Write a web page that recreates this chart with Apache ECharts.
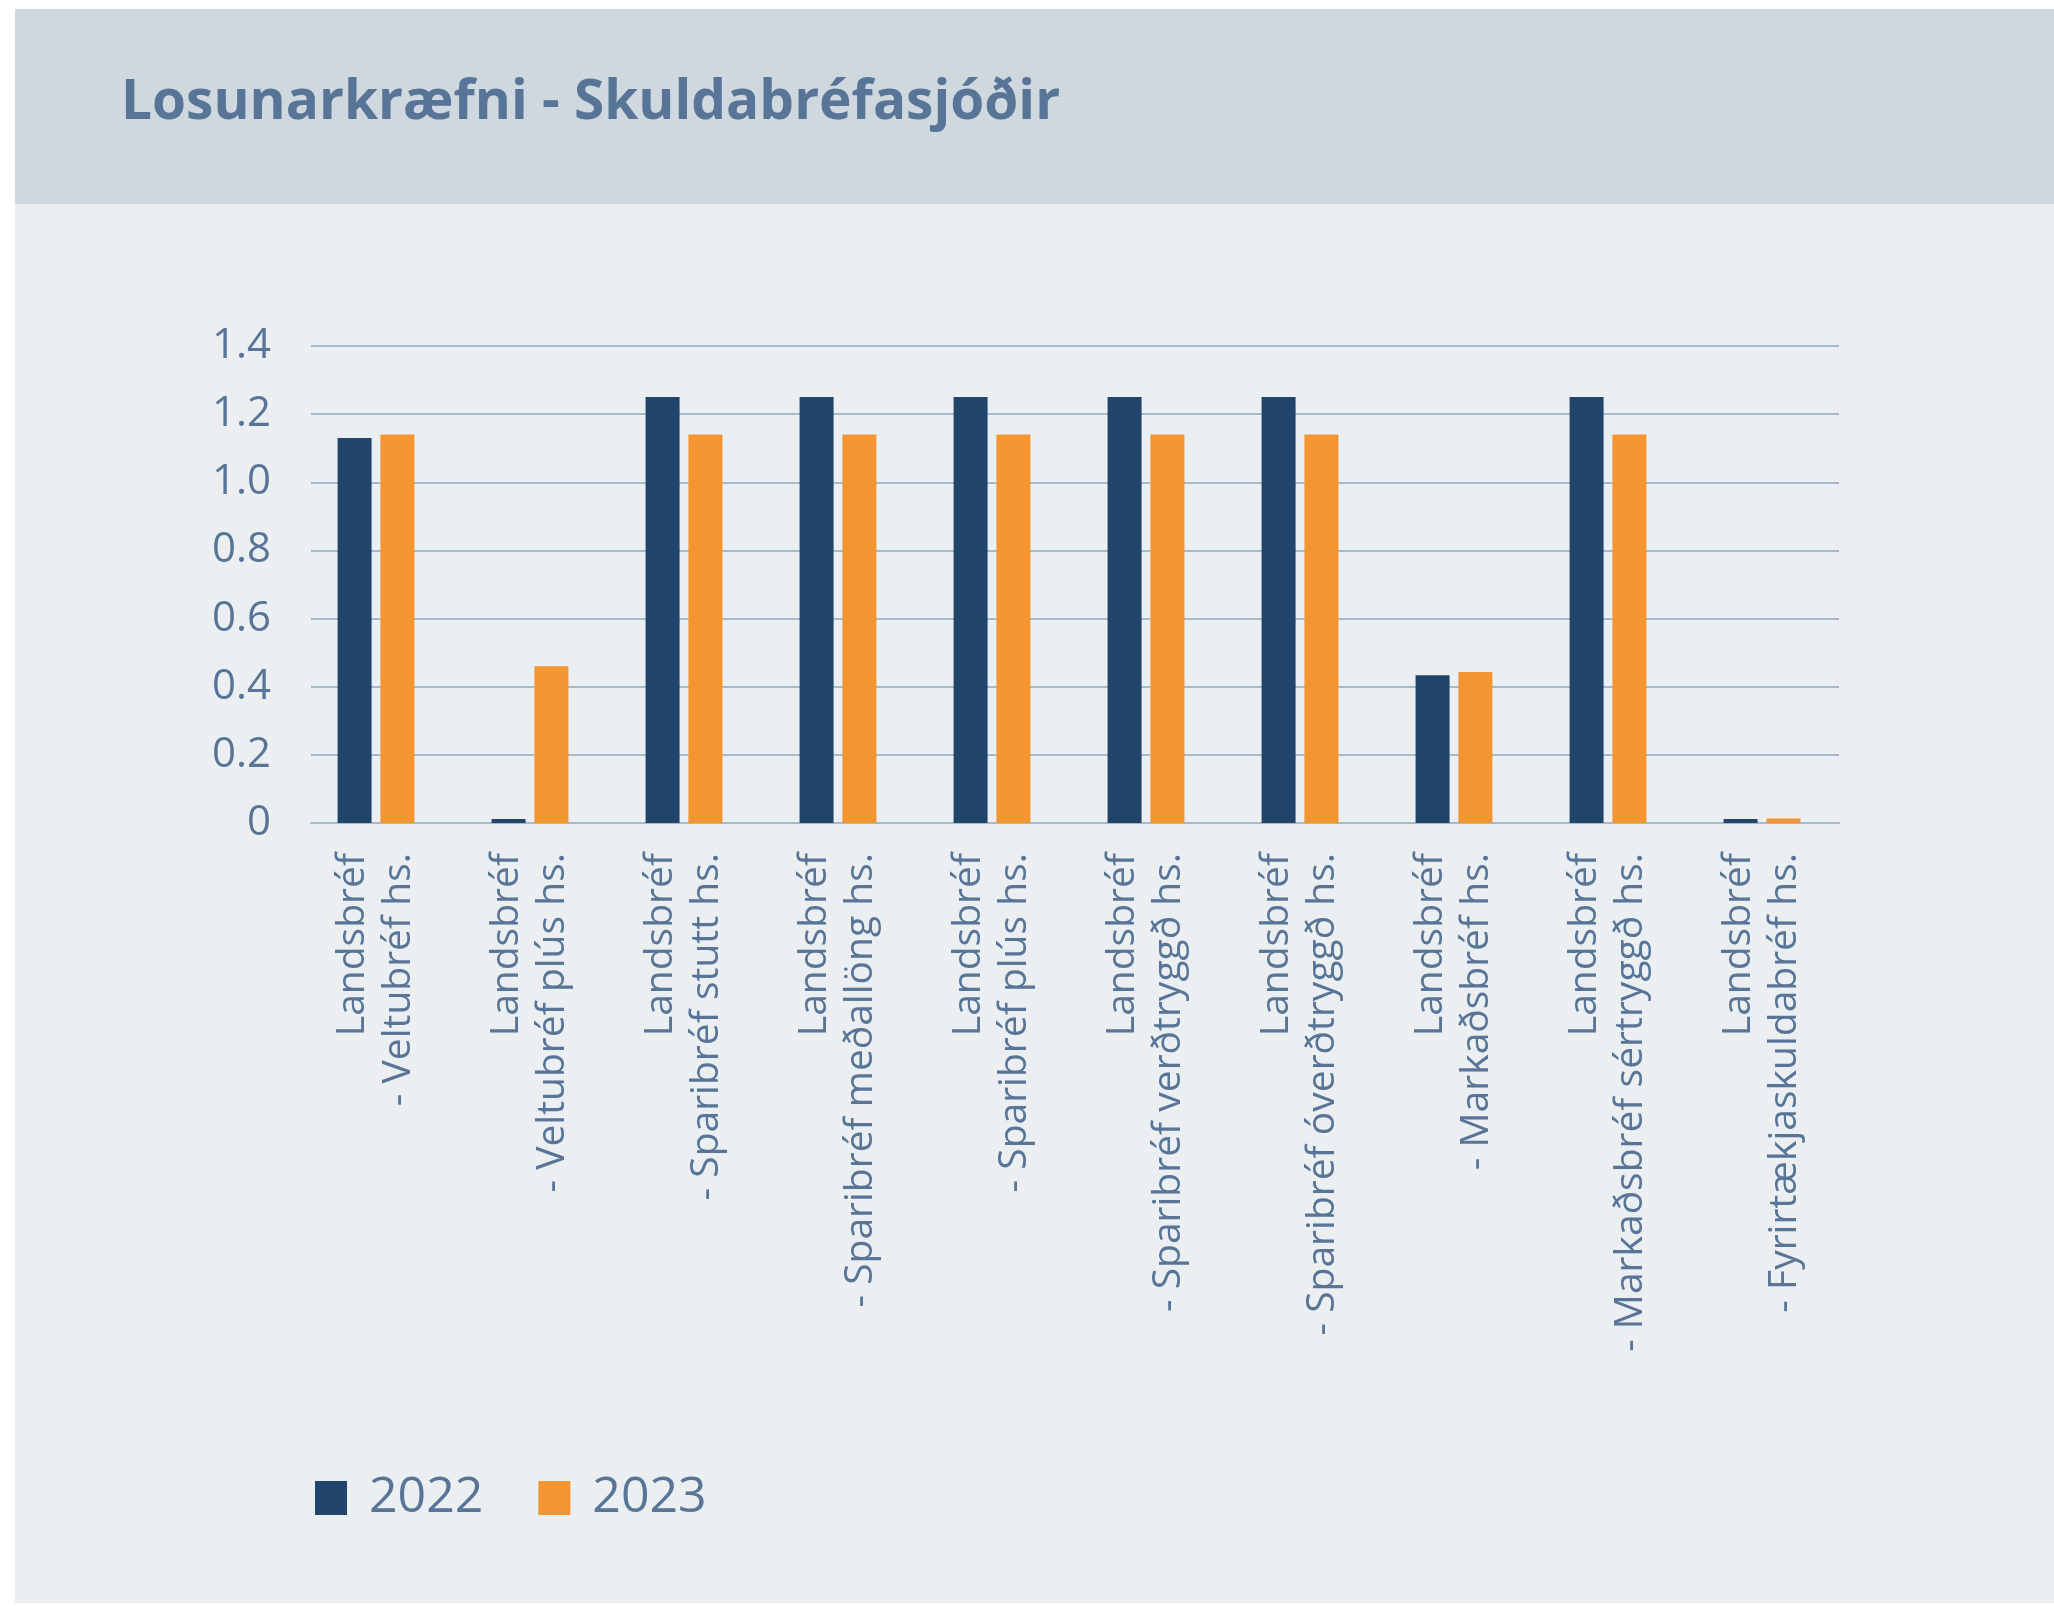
<!DOCTYPE html>
<html>
<head>
<meta charset="utf-8">
<script src="https://cdn.jsdelivr.net/npm/echarts@6/dist/echarts.min.js"></script>
<style>
html,body{margin:0;padding:0;background:#ffffff;}
#chart{width:2054px;height:1606px;}
</style>
</head>
<body>
<div id="chart"></div>
<script>
const titleText = 'Losunarkræfni - Skuldabréfasjóðir';
const categories = [
  'Landsbréf\n- Veltubréf hs.',
  'Landsbréf\n- Veltubréf plús hs.',
  'Landsbréf\n- Sparibréf stutt hs.',
  'Landsbréf\n- Sparibréf meðallöng hs.',
  'Landsbréf\n- Sparibréf plús hs.',
  'Landsbréf\n- Sparibréf verðtryggð hs.',
  'Landsbréf\n- Sparibréf óverðtryggð hs.',
  'Landsbréf\n- Markaðsbréf hs.',
  'Landsbréf\n- Markaðsbréf sértryggð hs.',
  'Landsbréf\n- Fyrirtækjaskuldabréf hs.'
];
const seriesNames = ['2022', '2023'];
const values2022 = [1.13, 0.012, 1.25, 1.25, 1.25, 1.25, 1.25, 0.434, 1.25, 0.012];
const values2023 = [1.14, 0.46, 1.14, 1.14, 1.14, 1.14, 1.14, 0.443, 1.14, 0.013];
const yTickLabels = ['0', '0.2', '0.4', '0.6', '0.8', '1.0', '1.2', '1.4'];

const textColor = '#587597';
const gridColor = '#a9b8ca';
const labelFont = '"Open Sans", "Noto Sans", sans-serif';

const chart = echarts.init(document.getElementById('chart'), null, {renderer: 'canvas'});
chart.setOption({
  backgroundColor: '#ffffff',
  animation: false,
  graphic: [
    {type: 'rect', z: -10, silent: true, shape: {x: 15, y: 9, width: 2039, height: 1594}, style: {fill: '#ebeff2'}},
    {type: 'rect', z: -9, silent: true, shape: {x: 15, y: 9, width: 2039, height: 195}, style: {fill: '#cfd8df'}}
  ],
  title: {
    text: titleText,
    left: 116,
    top: 71,
    textStyle: {
      fontFamily: '"Open Sans", sans-serif',
      fontWeight: 'bold',
      fontSize: 55,
      color: textColor
    }
  },
  grid: [
    {left: 299, right: 215, top: 346, bottom: 783},
    {left: 311, right: 215, top: 346, bottom: 783}
  ],
  legend: {
    left: 310,
    top: 1468,
    itemWidth: 32,
    itemHeight: 34,
    itemGap: 55,
    icon: 'rect',
    textStyle: {fontFamily: labelFont, fontSize: 50, color: textColor, padding: [0, 0, 0, 17]},
    data: seriesNames
  },
  xAxis: [
    {
      type: 'category',
      gridIndex: 0,
      data: categories,
      axisLine: {show: false},
      axisTick: {show: false},
      axisLabel: {
        rotate: 90,
        interval: 0,
        margin: 30,
        fontFamily: labelFont,
        fontSize: 39,
        lineHeight: 46,
        padding: [0, 0, 12, 0],
        color: textColor
      }
    },
    {
      type: 'category',
      gridIndex: 1,
      data: categories,
      axisLine: {show: true, lineStyle: {color: gridColor, width: 2}},
      axisTick: {show: false},
      axisLabel: {show: false}
    }
  ],
  yAxis: [
    {
      type: 'value',
      gridIndex: 0,
      min: 0,
      max: 1.4,
      interval: 0.2,
      show: false,
      splitLine: {show: false}
    },
    {
      type: 'value',
      gridIndex: 1,
      min: 0,
      max: 1.4,
      interval: 0.2,
      axisLine: {show: false},
      axisTick: {show: false},
      splitLine: {lineStyle: {color: gridColor, width: 2}},
      axisLabel: {
        margin: 40,
        fontFamily: labelFont,
        fontSize: 42,
        color: textColor,
        formatter: function (v) { return yTickLabels[Math.round(v / 0.2)]; }
      }
    }
  ],
  series: [
    {name: seriesNames[0], type: 'bar', xAxisIndex: 0, yAxisIndex: 0, data: values2022, barWidth: 34, barGap: '26%', z: 3, itemStyle: {color: '#21446a'}},
    {name: seriesNames[1], type: 'bar', xAxisIndex: 0, yAxisIndex: 0, data: values2023, barWidth: 34, barGap: '26%', z: 3, itemStyle: {color: '#f39530'}}
  ]
});
</script>
</body>
</html>
